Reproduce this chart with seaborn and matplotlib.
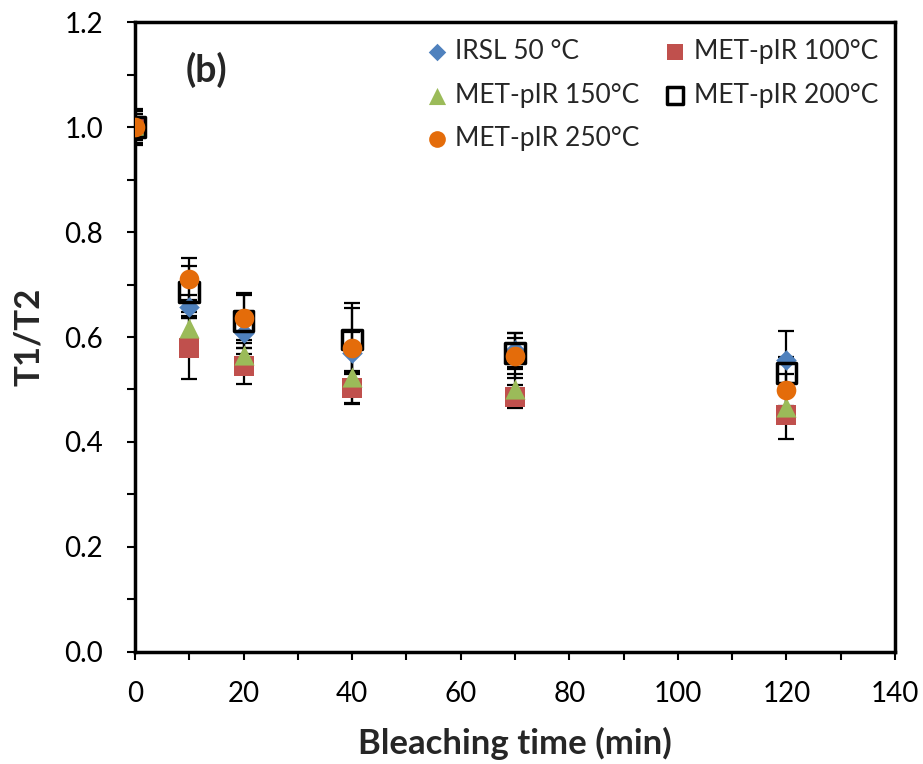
import pandas as pd
import seaborn as sns
import matplotlib.pyplot as plt
from matplotlib.ticker import MultipleLocator

# bleaching time (min)
times = [0, 10, 20, 40, 70, 120]

# T1/T2 ratios
irsl50 = [1.00, 0.658, 0.607, 0.570, 0.575, 0.556]
met100 = [1.00, 0.580, 0.545, 0.503, 0.486, 0.451]
met150 = [1.00, 0.617, 0.565, 0.524, 0.500, 0.467]
met200 = [1.00, 0.686, 0.630, 0.595, 0.569, 0.531]
met250 = [1.00, 0.710, 0.636, 0.580, 0.564, 0.499]

# error bars
irsl50_err = [0.030, 0.022, 0.040, 0.040, 0.032, 0.055]
met100_err = [0.025, 0.060, 0.035, 0.030, 0.022, 0.045]
met150_err = [0.020, 0.030, 0.030, 0.050, 0.030, 0.030]
met200_err = [0.035, 0.050, 0.050, 0.060, 0.030, 0.030]
met250_err = [0.030, 0.040, 0.048, 0.084, 0.043, 0.030]

labels = ['IRSL 50 °C', 'MET-pIR 100°C', 'MET-pIR 150°C', 'MET-pIR 200°C', 'MET-pIR 250°C']

frames = []
for lab, v, e in zip(labels,
                     [irsl50, met100, met150, met200, met250],
                     [irsl50_err, met100_err, met150_err, met200_err, met250_err]):
    frames.append(pd.DataFrame({'time': times, 'ratio': v, 'err': e, 'series': lab}))
df = pd.concat(frames, ignore_index=True)

sns.set_style('ticks')
plt.rcParams['font.family'] = ['Lato', 'DejaVu Sans']

fig = plt.figure(figsize=(9.23, 7.64), dpi=100)
ax = fig.add_axes([0.1463, 0.1466, 0.8234, 0.8246])

# style per series: marker, size, face, edge
styles = {
    'IRSL 50 °C':    dict(marker='D', s=110, color='#4F81BD', edgecolor='#4F81BD', linewidth=0),
    'MET-pIR 100°C': dict(marker='s', s=200, color='#C0504D', edgecolor='#C0504D', linewidth=0),
    'MET-pIR 150°C': dict(marker='^', s=210, color='#9BBB59', edgecolor='#9BBB59', linewidth=0),
    'MET-pIR 200°C': dict(marker='s', s=200, color='none', edgecolor='black', linewidth=2.5),
    'MET-pIR 250°C': dict(marker='o', s=200, color='#E46C0A', edgecolor='#E46C0A', linewidth=0),
}

for lab in labels:
    d = df[df['series'] == lab]
    ax.errorbar(d['time'], d['ratio'], yerr=d['err'], fmt='none', ecolor='black',
                elinewidth=1.6, capsize=6, capthick=1.6, zorder=2)

for i, lab in enumerate(labels):
    d = df[df['series'] == lab]
    st = styles[lab]
    sns.scatterplot(data=d, x='time', y='ratio', ax=ax, label=lab, zorder=3 + i,
                    marker=st['marker'], s=st['s'], color=st['color'],
                    edgecolor=st['edgecolor'], linewidth=st['linewidth'])

ax.set_xlim(0, 140)
ax.set_ylim(0, 1.2)
ax.xaxis.set_major_locator(MultipleLocator(20))
ax.xaxis.set_minor_locator(MultipleLocator(10))
ax.yaxis.set_major_locator(MultipleLocator(0.2))
ax.yaxis.set_minor_locator(MultipleLocator(0.1))
ax.yaxis.set_major_formatter(plt.FuncFormatter(lambda v, p: f'{v:.1f}'))
ax.tick_params(which='both', direction='out', length=6, width=1.5, labelsize=20, colors='black')
ax.tick_params(axis='x', pad=15)
ax.tick_params(axis='y', pad=17)
for sp in ax.spines.values():
    sp.set_linewidth(2.5)
    sp.set_color('black')

ax.set_xlabel('Bleaching time (min)', fontsize=25, fontweight='bold', labelpad=14)
ax.set_ylabel('T1/T2', fontsize=25, fontweight='bold', labelpad=14)
ax.text(0.067, 0.905, '(b)', transform=ax.transAxes, fontsize=27, fontweight='bold')

# legend filled row by row as in the original
handles, labs = ax.get_legend_handles_labels()
order = [0, 2, 4, 1, 3]
leg = ax.legend([handles[i] for i in order], [labs[i] for i in order],
                ncol=2, loc='upper right', bbox_to_anchor=(1.0, 1.0), frameon=False,
                fontsize=19, handlelength=0.9, handletextpad=0.25, columnspacing=0.9,
                labelspacing=0.7, markerscale=0.85, borderaxespad=0.25)

plt.savefig('out.png', dpi=100)
